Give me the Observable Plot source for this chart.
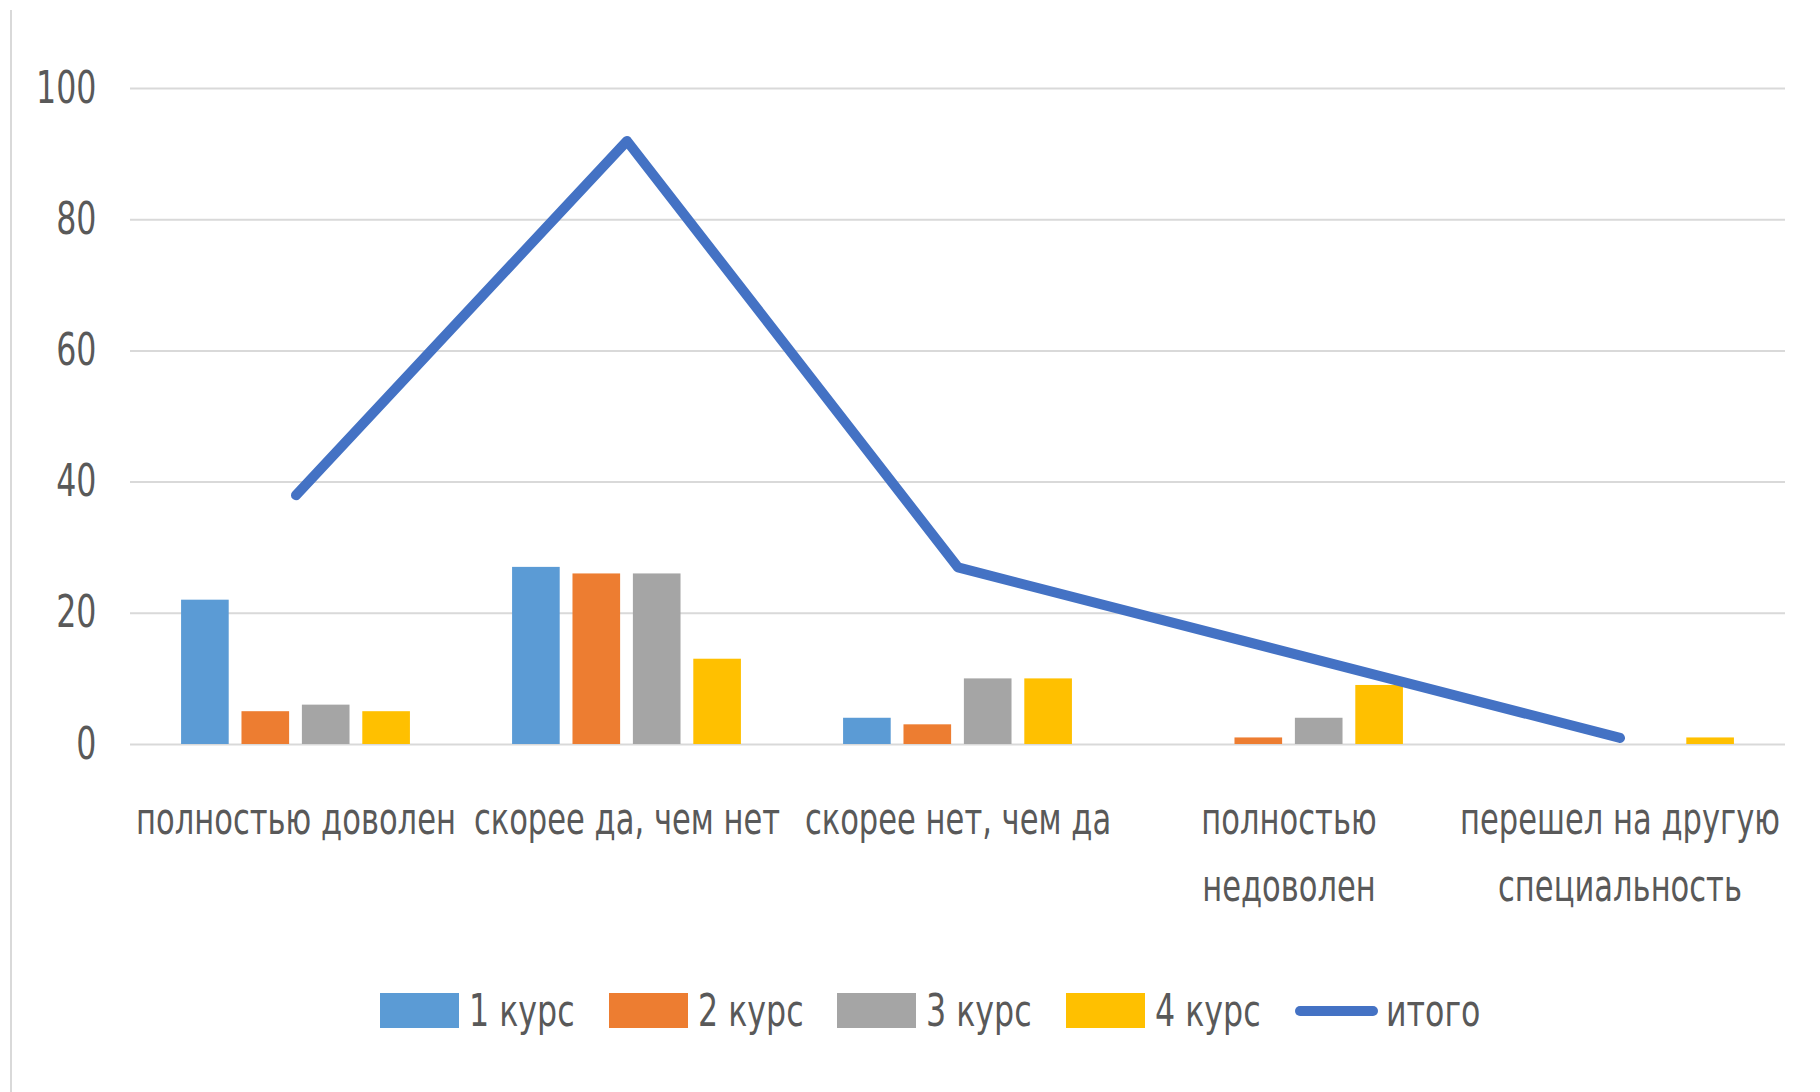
<!DOCTYPE html>
<html>
<head>
<meta charset="utf-8">
<script src="https://cdn.jsdelivr.net/npm/d3@7"></script>
<script src="https://cdn.jsdelivr.net/npm/@observablehq/plot@0.6"></script>
<style>
  html, body { margin: 0; padding: 0; background: #fff; }
  #wrap { position: relative; width: 1820px; height: 1092px; overflow: hidden; }
  #border { position: absolute; left: 10px; top: 10px; width: 2px; height: 1082px; background: #d9d9d9; }
  #chart { position: absolute; left: 0; top: 0; }
  #legend { position: absolute; left: 0; top: 985px; width: 1820px; display: flex; justify-content: center;
            align-items: center; padding-left: 40px; box-sizing: border-box;
            font-family: "DejaVu Sans", sans-serif; font-size: 44px; color: #595959; }
  .item { display: flex; align-items: center; margin-right: 34px; }
  .item:last-child { margin-right: 0; }
  .item span { display: inline-block; white-space: nowrap; transform-origin: left center; }
  .sw { width: 79px; height: 35px; margin-right: 10px; }
  .ln { width: 83px; height: 10px; border-radius: 5px; margin-right: 8px; }
</style>
</head>
<body>
<div id="wrap">
  <div id="border"></div>
  <div id="chart"></div>
  <div id="legend"></div>
</div>
<script>
const categories = ["полностью доволен", "скорее да, чем нет", "скорее нет, чем да", "полностью\nнедоволен", "перешел на другую\nспециальность"];
const seriesNames = ["1 курс", "2 курс", "3 курс", "4 курс"];
const course1 = [22, 27, 4, 0, 0];
const course2 = [5, 26, 3, 1, 0];
const course3 = [6, 26, 10, 4, 0];
const course4 = [5, 13, 10, 9, 1];
const totalName = "итого";
const total = [38, 92, 27, 14, 1];
const yTicks = [0, 20, 40, 60, 80, 100];
const colors = ["#5B9BD5", "#ED7D31", "#A5A5A5", "#FFC000"];
const lineColor = "#4472C4";

const seriesValues = [course1, course2, course3, course4];
const step = 0.1825, barW = 0.1439;
const bars = [];
seriesValues.forEach((vals, s) => {
  vals.forEach((v, i) => {
    const c = i + 0.5 + (s - 1.5) * step;
    bars.push({series: seriesNames[s], cat: i, x1: c - barW / 2, x2: c + barW / 2, value: v});
  });
});
const lineData = total.map((v, i) => ({x: i + 0.5, value: v}));
const labelData = categories.map((c, i) => ({x: i + 0.5, label: c}));

const chart = Plot.plot({
  width: 1820,
  height: 960,
  marginLeft: 130,
  marginRight: 35,
  marginTop: 88,
  marginBottom: 216,
  style: {fontFamily: '"DejaVu Sans", sans-serif', fontSize: "44px", color: "#595959", background: "transparent"},
  x: {type: "linear", domain: [0, 5], axis: null},
  y: {domain: [0, 100], ticks: yTicks, tickSize: 0, tickPadding: 34, label: null},
  color: {domain: seriesNames, range: colors},
  marks: [
    Plot.ruleY(yTicks, {stroke: "#d9d9d9", strokeWidth: 2}),
    Plot.rectY(bars, {x1: "x1", x2: "x2", y: "value", fill: "series"}),
    Plot.line(lineData, {x: "x", y: "value", stroke: lineColor, strokeWidth: 10, strokeLinecap: "round", strokeLinejoin: "round"}),
    Plot.text(labelData, {x: "x", y: () => 0, text: "label", lineAnchor: "top", dy: 42, lineHeight: 1.52,
      fill: "#595959", fontSize: 44, className: "xlab"})
  ]
});
// horizontally condense every text around its anchor point
chart.querySelectorAll("text").forEach(t => {
  const k = t.closest(".xlab") ? 0.695 : 0.72;
  const tr = t.getAttribute("transform") || "";
  const x0 = parseFloat(t.getAttribute("x")) || 0;
  t.setAttribute("transform", `${tr} translate(${x0},0) scale(${k},1) translate(${-x0},0)`);
});
document.getElementById("chart").appendChild(chart);

const leg = document.getElementById("legend");
const spans = [];
seriesNames.forEach((name, s) => {
  const it = document.createElement("div");
  it.className = "item";
  it.innerHTML = `<div class="sw" style="background:${colors[s]}"></div><span>${name}</span>`;
  leg.appendChild(it);
  spans.push(it.querySelector("span"));
});
const it = document.createElement("div");
it.className = "item";
it.innerHTML = `<div class="ln" style="background:${lineColor}"></div><span>${totalName}</span>`;
leg.appendChild(it);
spans.push(it.querySelector("span"));
spans.forEach(sp => {
  const w = sp.getBoundingClientRect().width;
  sp.style.width = (w * 0.72) + "px";
  sp.style.transform = "scaleX(0.72)";
});
</script>
</body>
</html>
